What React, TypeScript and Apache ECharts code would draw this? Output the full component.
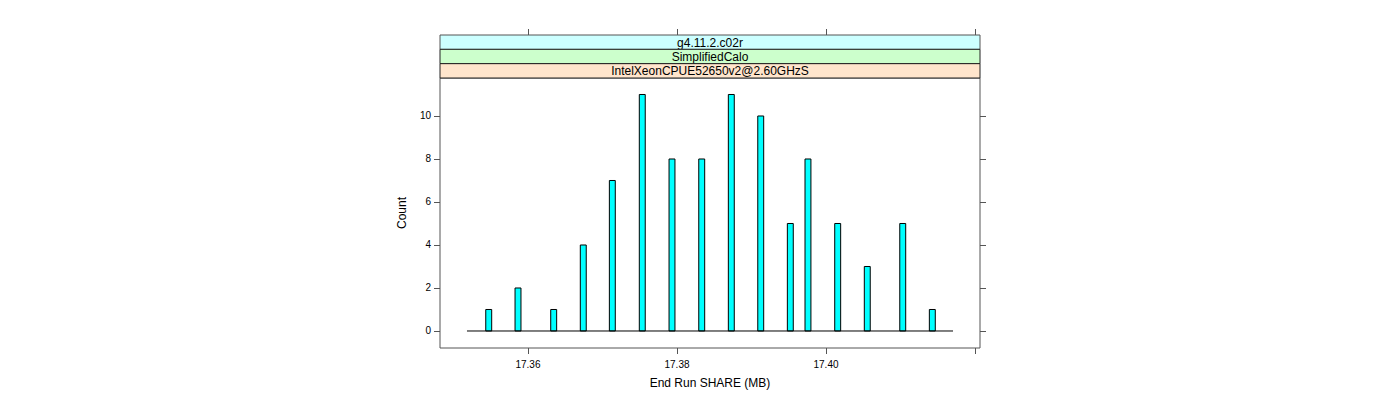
import React, { useEffect, useRef } from "react";
import * as echarts from "echarts";

// Histogram bin centers (End Run SHARE, MB) and counts
const binCenters = [
  17.35473, 17.35866, 17.36345, 17.36742, 17.37132, 17.37534, 17.37933, 17.38332,
  17.38729, 17.39124, 17.39521, 17.39758, 17.40157, 17.40554, 17.4103, 17.41427,
];
const counts = [1, 2, 1, 4, 7, 11, 8, 8, 11, 10, 5, 8, 5, 3, 5, 1];
const binWidth = 0.000796;
// Histogram range (zero-count bins draw as the baseline)
const histRange = [17.35181, 17.41705];

const xTicks = [17.36, 17.38, 17.4, 17.42];
const xTickLabels = [17.36, 17.38, 17.4];
const yTicks = [0, 2, 4, 6, 8, 10];
const stripLabels = ["g4.11.2.c02r", "SimplifiedCalo", "IntelXeonCPUE52650v2@2.60GHzS"];
const stripColors = ["#CCFFFF", "#CCFFCC", "#FFE5CC"];

const xMin = 17.34819;
const xMax = 17.42067;
const yMin = -0.791;
const yMax = 11.767;

const FONT = "Liberation Sans, Arial, Helvetica, sans-serif";
const AX = "#555555";

export default function App() {
  const ref = useRef<HTMLDivElement>(null);
  useEffect(() => {
    if (!ref.current) return;
    const chart = echarts.init(ref.current, undefined, { renderer: "svg" });
    const gLeft = 440, gTop = 78, gW = 540, gH = 270;
    const stripH = 14.33;
    const stripTop = gTop - stripH * stripLabels.length;

    const graphics: any[] = [];
    stripLabels.forEach((lab, i) => {
      const y = stripTop + i * stripH;
      graphics.push({
        type: "rect",
        shape: { x: gLeft, y, width: gW, height: stripH },
        style: { fill: stripColors[i], stroke: i === 0 ? AX : "#222", lineWidth: 1 },
        silent: true,
      });
      graphics.push({
        type: "text",
        x: gLeft + gW / 2,
        y: y + stripH / 2 + 0.5,
        style: {
          text: lab,
          fill: "#000",
          font: `12px ${FONT}`,
          align: "center",
          verticalAlign: "middle",
        },
        silent: true,
      });
    });

    const barData = binCenters.map((c, i) => [c, counts[i]]);

    chart.setOption({
      animation: false,
      backgroundColor: "#ffffff",
      textStyle: { fontFamily: FONT },
      grid: {
        left: gLeft,
        top: gTop,
        width: gW,
        height: gH,
        show: true,
        borderColor: AX,
        borderWidth: 1,
        backgroundColor: "transparent",
      },
      xAxis: [
        {
          type: "value",
          position: "bottom",
          min: xMin,
          max: xMax,
          axisLine: { show: false, onZero: false },
          splitLine: { show: false },
          axisTick: {
            show: true,
            length: 6,
            lineStyle: { color: AX },
            customValues: xTicks,
          },
          axisLabel: {
            show: true,
            color: "#000",
            fontSize: 10,
            fontFamily: FONT,
            margin: 11,
            customValues: xTickLabels,
            formatter: (v: number) => v.toFixed(2),
          },
          name: "End Run SHARE (MB)",
          nameLocation: "middle",
          nameGap: 29,
          nameTextStyle: { color: "#000", fontSize: 12, fontFamily: FONT },
        },
        {
          type: "value",
          position: "top",
          offset: gTop - stripTop,
          min: xMin,
          max: xMax,
          axisLine: { show: false, onZero: false },
          splitLine: { show: false },
          axisTick: {
            show: true,
            length: 6,
            lineStyle: { color: AX },
            customValues: xTicks,
          },
          axisLabel: { show: false },
        },
      ],
      yAxis: [
        {
          type: "value",
          position: "left",
          min: yMin,
          max: yMax,
          axisLine: { show: false, onZero: false },
          splitLine: { show: false },
          axisTick: {
            show: true,
            length: 6,
            lineStyle: { color: AX },
            customValues: yTicks,
          },
          axisLabel: {
            show: true,
            color: "#000",
            fontSize: 10,
            fontFamily: FONT,
            margin: 9,
            customValues: yTicks,
          },
          name: "Count",
          nameLocation: "middle",
          nameGap: 32,
          nameTextStyle: { color: "#000", fontSize: 12, fontFamily: FONT },
        },
        {
          type: "value",
          position: "right",
          min: yMin,
          max: yMax,
          axisLine: { show: false, onZero: false },
          splitLine: { show: false },
          axisTick: {
            show: true,
            length: 6,
            lineStyle: { color: AX },
            customValues: yTicks,
          },
          axisLabel: { show: false },
        },
      ],
      series: [
        {
          type: "line",
          xAxisIndex: 0,
          yAxisIndex: 0,
          data: [
            [histRange[0], 0],
            [histRange[1], 0],
          ],
          symbol: "none",
          lineStyle: { color: "#000", width: 1 },
          silent: true,
        },
        {
          type: "custom",
          xAxisIndex: 0,
          yAxisIndex: 0,
          data: barData,
          encode: { x: 0, y: 1 },
          renderItem: (params: any, api: any) => {
            const c = api.value(0);
            const h = api.value(1);
            const p0 = api.coord([c - binWidth / 2, h]);
            const p1 = api.coord([c + binWidth / 2, 0]);
            return {
              type: "rect",
              shape: {
                x: p0[0],
                y: p0[1],
                width: p1[0] - p0[0],
                height: p1[1] - p0[1],
              },
              style: { fill: "#00FFFF", stroke: "#000", lineWidth: 1 },
            };
          },
          silent: true,
        },
      ],
      graphic: graphics,
    });
    return () => chart.dispose();
  }, []);
  return (
    <div
      ref={ref}
      style={{ position: "fixed", left: 0, top: 0, width: 1400, height: 400 }}
    />
  );
}
